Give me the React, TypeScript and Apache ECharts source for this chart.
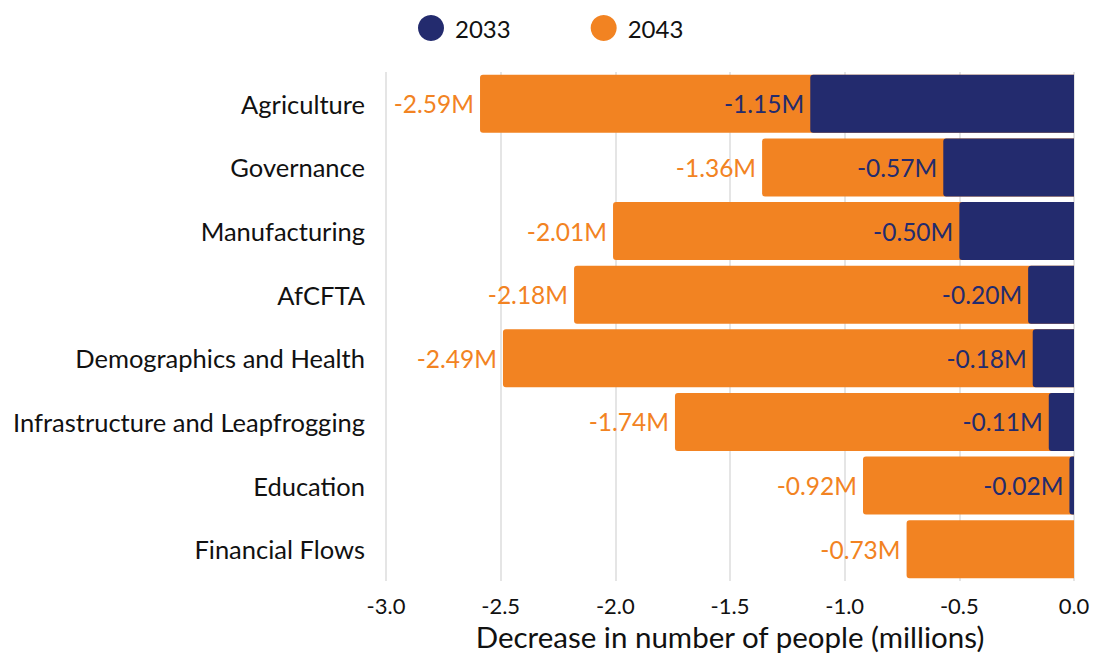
import React, { useEffect, useRef } from "react";
import * as echarts from "echarts";

const categories = [
  "Agriculture",
  "Governance",
  "Manufacturing",
  "AfCFTA",
  "Demographics and Health",
  "Infrastructure and Leapfrogging",
  "Education",
  "Financial Flows",
];
const values2033 = [-1.15, -0.57, -0.5, -0.2, -0.18, -0.11, -0.02, 0];
const values2043 = [-2.59, -1.36, -2.01, -2.18, -2.49, -1.74, -0.92, -0.73];
const xTicks = { min: -3, max: 0, interval: 0.5 };

const NAVY = "#232B6E";
const ORANGE = "#F28322";
const FONT = "Lato, 'Noto Sans', sans-serif";

export default function App() {
  const ref = useRef<HTMLDivElement>(null);
  useEffect(() => {
    if (!ref.current) return;
    const chart = echarts.init(ref.current, undefined, { renderer: "svg" });
    const fmt = (p: any) =>
      p.value === 0 ? "" : `${Number(p.value).toFixed(2)}M`;
    chart.setOption({
      animation: false,
      textStyle: { fontFamily: FONT },
      legend: {
        left: 413,
        top: 10,
        icon: "circle",
        itemWidth: 26,
        itemHeight: 26,
        itemGap: 80,
        textStyle: { fontSize: 24, color: "#111", fontFamily: FONT, padding: [0, 0, 0, 6] },
        data: ["2033", "2043"],
      },
      grid: {
        left: 386,
        right: 19,
        top: 72,
        bottom: 72,
        containLabel: false,
        outerBoundsMode: "none",
      },
      xAxis: {
        type: "value",
        min: xTicks.min,
        max: xTicks.max,
        interval: xTicks.interval,
        axisLine: { show: false },
        axisTick: { show: false },
        splitLine: { show: true, lineStyle: { color: "#dcdcdc", width: 1.5 } },
        axisLabel: {
          fontSize: 22,
          color: "#111",
          margin: 13,
          formatter: (v: number) => v.toFixed(1),
        },
        name: "Decrease in number of people (millions)",
        nameLocation: "middle",
        nameGap: 29,
        nameTextStyle: { fontSize: 29.5, color: "#111", lineHeight: 32 },
      },
      yAxis: {
        type: "category",
        data: categories,
        inverse: true,
        axisLine: { show: false },
        axisTick: { show: false },
        axisLabel: { fontSize: 25.5, color: "#111", margin: 21 },
      },
      series: [
        {
          name: "2043",
          type: "bar",
          data: values2043,
          barCategoryGap: "9%",
          barGap: "-100%",
          z: 2,
          itemStyle: { color: ORANGE, borderRadius: [3, 0, 0, 3] },
          label: {
            show: true,
            position: "left",
            distance: 6,
            color: ORANGE,
            fontSize: 24.5,
            formatter: fmt,
          },
        },
        {
          name: "2033",
          type: "bar",
          data: values2033,
          barCategoryGap: "9%",
          barGap: "-100%",
          z: 3,
          itemStyle: { color: NAVY, borderRadius: [3, 0, 0, 3] },
          label: {
            show: true,
            position: "left",
            distance: 6,
            color: NAVY,
            fontSize: 24.5,
            formatter: fmt,
          },
        },
      ],
    });
    return () => chart.dispose();
  }, []);
  return (
    <div
      ref={ref}
      style={{ position: "fixed", left: 0, top: 0, width: 1093, height: 653, background: "#fff" }}
    />
  );
}
